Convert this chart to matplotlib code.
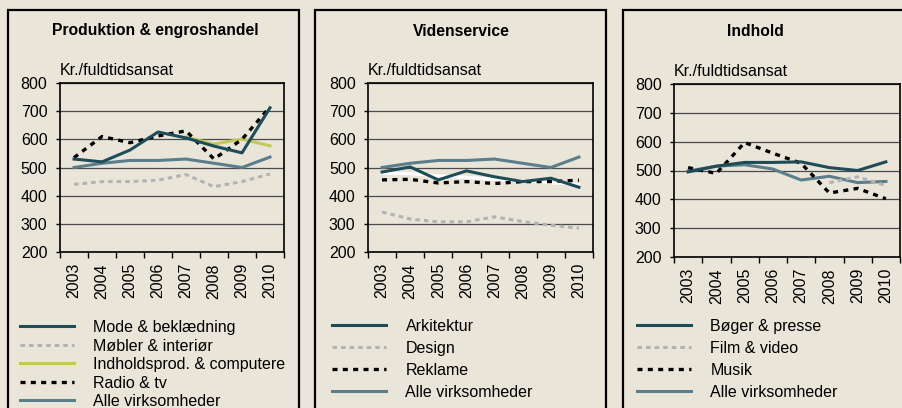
import matplotlib

matplotlib.use("Agg")

import matplotlib.pyplot as plt
import numpy as np
from matplotlib.lines import Line2D
from matplotlib.patches import Rectangle

years = ["2003", "2004", "2005", "2006", "2007", "2008", "2009", "2010"]
nan = np.nan

# Produktion & engroshandel
mode = [530, 520, 562, 626, 605, 576, 552, 712]
mobler = [440, 450, 450, 455, 475, 432, 450, 477]
indholdsprod = [nan, nan, nan, nan, 608, 583, 601, 577]
radio = [535, 610, 588, 612, 630, 530, 600, 715]
alle = [500, 515, 525, 525, 530, 515, 500, 537]

# Videnservice
arkitektur = [484, 502, 456, 488, 467, 450, 462, 430]
design = [342, 317, 307, 307, 325, 308, 295, 285]
reklame = [456, 458, 445, 450, 443, 450, 450, 455]
skjult = [480, 478, 470, 465, 458, 452, 446, 440]

# Indhold
boger = [495, 515, 528, 528, 530, 510, 500, 530]
film = [nan, nan, nan, nan, nan, 458, 478, 448]
musik = [510, 490, 597, 560, 525, 422, 438, 402]
alle_indhold = [498, 515, 520, 505, 467, 480, 458, 462]

BG = "#EAE5D9"
DARK = "#1E4C58"
BLUEGRAY = "#5C7D8C"
LIGHT = "#B3B3B3"
YELLOW = "#C2C85A"

W, H = 902, 408
plt.rcParams["font.family"] = ["Liberation Sans", "DejaVu Sans"]
plt.rcParams["font.size"] = 11.5

fig = plt.figure(figsize=(W / 100, H / 100), dpi=100, facecolor=BG)

STYLES = {
    "dark": dict(color=DARK, lw=2.2, ls="-"),
    "gray": dict(color=BLUEGRAY, lw=2.2, ls="-"),
    "yellow": dict(color=YELLOW, lw=2.2, ls="-"),
    "light_dash": dict(color=LIGHT, lw=2.2, ls=(0, (1.5, 1.3))),
    "black_dash": dict(color="black", lw=2.4, ls=(0, (1.5, 1.6))),
    "white": dict(color="white", lw=2.2, ls="-"),
}


def frac(x0, y0, x1, y1):
    return [x0 / W, 1 - y1 / H, (x1 - x0) / W, (y1 - y0) / H]


def panel(box, plot_box, title, title_x, series, legend_items, legend_xy, spacing):
    x0, y0, x1, y1 = box
    fig.patches.append(Rectangle((x0 / W, 1 - y1 / H), (x1 - x0) / W, (y1 - y0) / H,
                                 transform=fig.transFigure, fill=False, ec="black", lw=1.6))
    fig.text(title_x / W, 1 - 31 / H, title, ha="center", va="center", fontweight="bold", fontsize=11.3)

    ax = fig.add_axes(frac(*plot_box))
    ax.set_facecolor("none")
    x = np.arange(len(years))
    for values, kind in series:
        ax.plot(x, values, **STYLES[kind])
    ax.set_xlim(-0.5, 7.5)
    ax.set_ylim(200, 800)
    ax.set_yticks(range(200, 801, 100))
    ax.yaxis.grid(True, color="#4a4a4a", lw=0.9)
    ax.set_axisbelow(True)
    ax.set_xticks(np.arange(-0.5, 8, 1))
    ax.set_xticklabels([])
    ax.set_xticks(x, minor=True)
    ax.set_xticklabels(years, minor=True, rotation=90)
    ax.tick_params(axis="x", which="major", length=4, width=1, direction="out")
    ax.tick_params(axis="x", which="minor", length=0, pad=8)
    ax.tick_params(axis="y", length=3, width=1, pad=6)
    for sp in ax.spines.values():
        sp.set_color("black")
        sp.set_linewidth(1.2)
    ax.text(0, 1.03, "Kr./fuldtidsansat", transform=ax.transAxes, ha="left", va="bottom")

    handles = [Line2D([], [], **STYLES[kind]) for _, kind in legend_items]
    labels = [lab for lab, _ in legend_items]
    lx, ly = legend_xy
    fig.legend(handles, labels, loc="upper left", bbox_to_anchor=(lx / W, 1 - ly / H), frameon=False,
               borderpad=0, borderaxespad=0, handlelength=3.4, handletextpad=1.2,
               labelspacing=spacing, fontsize=11.5)
    return ax


panel((8, 10, 299, 430), (60, 83, 284, 252), "Produktion & engroshandel", 155,
      [(alle, "gray"), (mobler, "light_dash"), (indholdsprod, "yellow"),
       (radio, "black_dash"), (mode, "dark")],
      [("Mode & beklædning", "dark"), ("Møbler & interiør", "light_dash"),
       ("Indholdsprod. & computere", "yellow"), ("Radio & tv", "black_dash"),
       ("Alle virksomheder", "gray")],
      (20, 320), 0.22)

panel((315, 10, 606, 430), (368, 83, 593, 252), "Videnservice", 461,
      [(skjult, "white"), (design, "light_dash"), (alle, "gray"),
       (reklame, "black_dash"), (arkitektur, "dark")],
      [("Arkitektur", "dark"), ("Design", "light_dash"), ("Reklame", "black_dash"),
       ("Alle virksomheder", "gray")],
      (332, 319), 0.44)

panel((623, 10, 960, 430), (674, 84, 900, 257), "Indhold", 755,
      [(alle_indhold, "gray"), (film, "light_dash"), (musik, "black_dash"), (boger, "dark")],
      [("Bøger & presse", "dark"), ("Film & video", "light_dash"), ("Musik", "black_dash"),
       ("Alle virksomheder", "gray")],
      (637, 319), 0.44)

fig.savefig("out.png", dpi=100, facecolor=BG)
